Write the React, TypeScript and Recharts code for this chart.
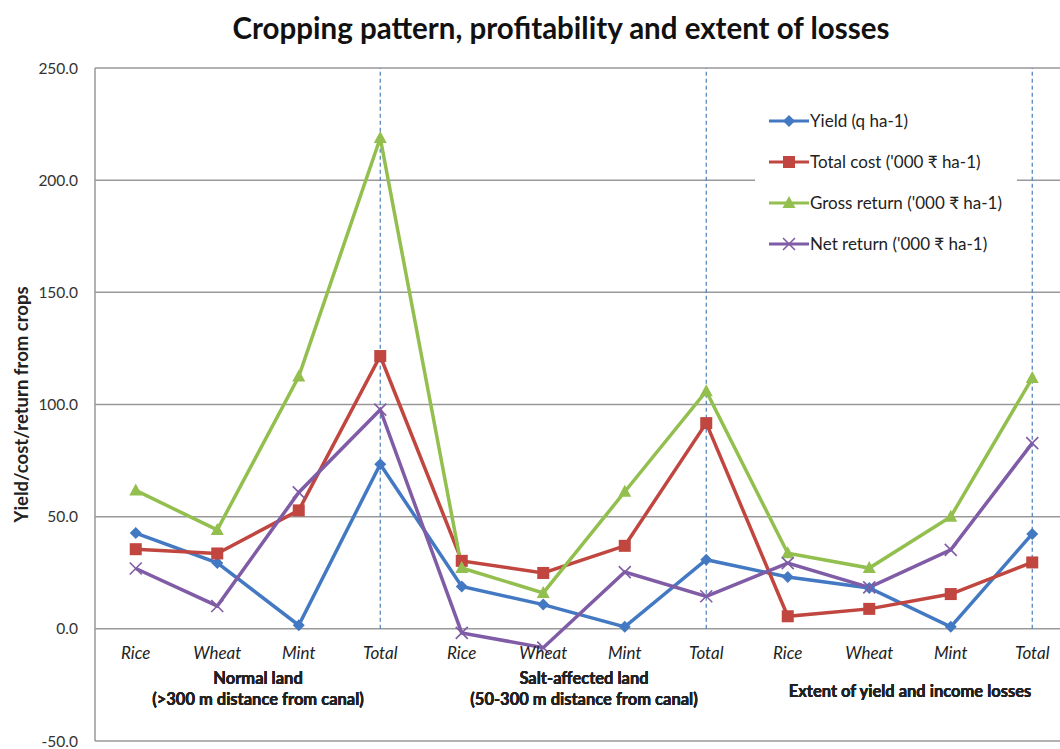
import React from 'react'
import {
    LineChart,
    Line,
    XAxis,
    YAxis,
    CartesianGrid,
    Legend,
    ReferenceLine,
} from "recharts";

const crops = ['Rice', 'Wheat', 'Mint', 'Total'];
const groupNames = ['Normal land', 'Salt-affected land', 'Extent of yield and income losses'];
const groupNotes = ['(>300 m distance from canal)', '(50-300 m distance from canal)', ''];

const yieldQ = [42.7, 29.4, 1.6, 73.4, 18.9, 10.8, 0.9, 30.8, 23.1, 18.2, 0.9, 42.3];
const totalCost = [35.5, 33.6, 52.8, 121.6, 30.3, 24.9, 37.0, 91.7, 5.6, 8.9, 15.5, 29.6];
const grossReturn = [61.7, 44.1, 112.5, 218.8, 27.1, 16.0, 61.1, 105.9, 33.7, 27.1, 50.0, 111.8];
const netReturn = [26.9, 10.2, 60.8, 97.7, -1.8, -8.4, 25.3, 14.5, 29.3, 18.5, 35.2, 82.8];

const yTicks = [-50, 0, 50, 100, 150, 200, 250];

const seriesInfo = [
    { key: 'yield', name: 'Yield (q ha-1)', color: '#4379C2', marker: 'diamond' },
    { key: 'cost', name: "Total cost ('000 ₹ ha-1)", color: '#C0463F', marker: 'square' },
    { key: 'gross', name: "Gross return ('000 ₹ ha-1)", color: '#93BF4F', marker: 'triangle' },
    { key: 'net', name: "Net return ('000 ₹ ha-1)", color: '#7F5CA5', marker: 'cross' },
];

const data = groupNames.flatMap((g, gi) =>
    crops.map((c, ci) => {
        const i = gi * 4 + ci;
        return {
            key: `${gi}-${c}`,
            crop: c,
            group: g,
            yield: yieldQ[i],
            cost: totalCost[i],
            gross: grossReturn[i],
            net: netReturn[i],
        };
    })
);

const FONT = "Lato, 'Open Sans', sans-serif";

function Marker({ type, cx, cy, color }: { type: string; cx: number; cy: number; color: string }) {
    if (cx == null || cy == null) return null;
    if (type === 'diamond') {
        return <polygon points={`${cx},${cy - 6} ${cx + 6},${cy} ${cx},${cy + 6} ${cx - 6},${cy}`} fill={color} />;
    }
    if (type === 'square') {
        return <rect x={cx - 6} y={cy - 6} width={12} height={12} fill={color} />;
    }
    if (type === 'triangle') {
        return <polygon points={`${cx},${cy - 7} ${cx + 6.5},${cy + 5} ${cx - 6.5},${cy + 5}`} fill={color} />;
    }
    return (
        <g stroke={color} strokeWidth={1.6}>
            <line x1={cx - 6} y1={cy - 6} x2={cx + 6} y2={cy + 6} />
            <line x1={cx - 6} y1={cy + 6} x2={cx + 6} y2={cy - 6} />
        </g>
    );
}

function CropTick(props: any) {
    const { x, y, payload } = props;
    const crop = String(payload.value).split('-')[1] ?? '';
    return (
        <text x={x} y={y} dy={-90} textAnchor="middle" fontSize={17} fontStyle="italic" fill="#222" fontFamily={FONT}>
            {crop}
        </text>
    );
}

function GroupTick(props: any) {
    const { x, y, payload } = props;
    const gi = groupNames.indexOf(payload.value);
    const note = groupNotes[gi];
    if (!note) {
        return (
            <text x={x} y={y} dy={-53} textAnchor="middle" fontSize={16.5} fontWeight="bold" fill="#222" fontFamily={FONT}>
                {payload.value}
            </text>
        );
    }
    return (
        <text x={x} y={y} textAnchor="middle" fontSize={16.5} fontWeight="bold" fill="#222" fontFamily={FONT}>
            <tspan x={x} dy={-66}>{payload.value}</tspan>
            <tspan x={x} dy={21}>{note}</tspan>
        </text>
    );
}

function LegendBox() {
    return (
        <div style={{ background: '#fff', padding: '2px 0', fontFamily: FONT }}>
            {seriesInfo.map((s) => (
                <div key={s.key} style={{ display: 'flex', alignItems: 'center', height: 41 }}>
                    <svg width={40} height={16} style={{ marginLeft: 14 }}>
                        <line x1={0} y1={8} x2={40} y2={8} stroke={s.color} strokeWidth={3} />
                        <Marker type={s.marker} cx={20} cy={8} color={s.color} />
                    </svg>
                    <span style={{ fontSize: 17, color: '#222', marginLeft: 1 }}>{s.name}</span>
                </div>
            ))}
        </div>
    );
}

function YLabel(props: any) {
    const { viewBox } = props;
    const cx = 21;
    const cy = viewBox.y + viewBox.height / 2;
    return (
        <text x={cx} y={cy} transform={`rotate(-90, ${cx}, ${cy})`} textAnchor="middle" dominantBaseline="central"
            fontSize={18.5} fontWeight="bold" fill="#222" fontFamily={FONT}>
            Yield/cost/return from crops
        </text>
    );
}

export default function App() {
    return (
        <div style={{ position: 'absolute', left: 0, top: 0, width: 1060, height: 749, overflow: 'hidden', background: '#fff' }}>
            <div style={{
                position: 'absolute', left: 0, top: 10, width: 1122, textAlign: 'center',
                fontFamily: FONT, fontWeight: 'bold', fontSize: 29.5, color: '#111',
            }}>
                Cropping pattern, profitability and extent of losses
            </div>
            <LineChart width={1090} height={749} data={data} margin={{ top: 68, right: 17, bottom: 6, left: 0 }}>
                <CartesianGrid vertical={false} stroke="#999" strokeWidth={1.5} />
                <XAxis dataKey="key" scale="band" height={1} interval={0} axisLine={false} tickLine={false} tick={<CropTick />} />
                <XAxis xAxisId="grp" dataKey="group" scale="band" allowDuplicatedCategory={false} height={1} interval={0}
                    axisLine={false} tickLine={false} tick={<GroupTick />} />
                <YAxis
                    width={95}
                    domain={[-50, 250]}
                    ticks={yTicks}
                    interval={0}
                    tickFormatter={(v: number) => v.toFixed(1)}
                    tick={{ fontSize: 15.5, fill: '#333', fontFamily: FONT }}
                    tickLine={false}
                    tickMargin={11}
                    axisLine={{ stroke: '#999', strokeWidth: 1.5 }}
                    label={<YLabel />}
                />
                {groupNames.map((g, gi) => (
                    <ReferenceLine
                        key={g}
                        segment={[{ x: `${gi}-Total`, y: 0 }, { x: `${gi}-Total`, y: 250 }]}
                        stroke="#4A7EBB"
                        strokeWidth={1.2}
                        strokeDasharray="4 3"
                    />
                ))}
                <Legend layout="vertical" align="center" verticalAlign="middle" content={<LegendBox />}
                    wrapperStyle={{ position: 'absolute', left: 755, top: 98, width: 262 }} />
                {seriesInfo.map((s) => (
                    <Line
                        key={s.key}
                        dataKey={s.key}
                        name={s.name}
                        stroke={s.color}
                        strokeWidth={3.5}
                        isAnimationActive={false}
                        dot={(p: any) => <Marker key={`${s.key}-${p.index}`} type={s.marker} cx={p.cx} cy={p.cy} color={s.color} />}
                    />
                ))}
            </LineChart>
        </div>
    )
}
